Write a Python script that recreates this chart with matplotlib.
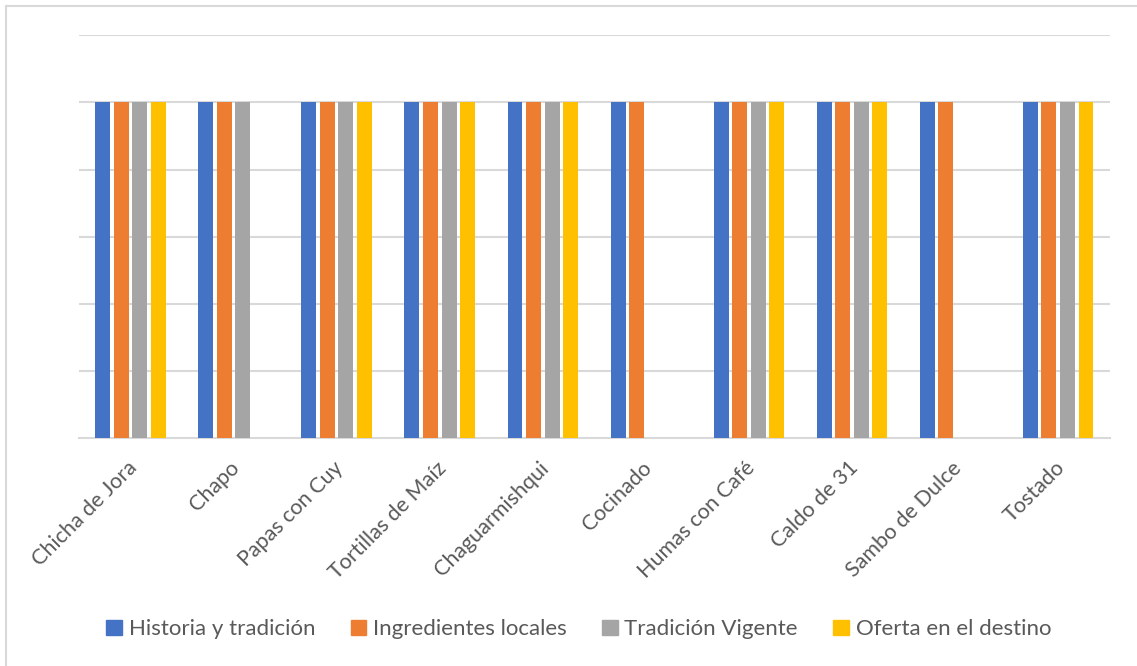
import numpy as np
import matplotlib.pyplot as plt
import matplotlib.transforms as mtransforms
from matplotlib.lines import Line2D

# platos y criterios
platos = ["Chicha de Jora", "Chapo", "Papas con Cuy", "Tortillas de Maíz", "Chaguarmishqui",
          "Cocinado", "Humas con Café", "Caldo de 31", "Sambo de Dulce", "Tostado"]
historia = [1, 1, 1, 1, 1, 1, 1, 1, 1, 1]
ingredientes = [1, 1, 1, 1, 1, 1, 1, 1, 1, 1]
vigente = [1, 1, 1, 1, 1, 0, 1, 1, 0, 1]
oferta = [1, 0, 1, 1, 1, 0, 1, 1, 0, 1]
series = ["Historia y tradición", "Ingredientes locales", "Tradición Vigente", "Oferta en el destino"]
colores = ["#4472C4", "#ED7D31", "#A5A5A5", "#FFC000"]

plt.rcParams['font.family'] = ['Lato', 'DejaVu Sans']
texto = '#595959'

fig = plt.figure(figsize=(11.37, 6.66), dpi=100)
ax = fig.add_axes([0.0695, 0.342, 0.9065, 0.605])

x = np.arange(len(platos))
paso = 0.18
ancho = 0.145
datos = [historia, ingredientes, vigente, oferta]
for i in range(4):
    ax.bar(x + (i - 1.5) * paso, datos[i], ancho, color=colores[i], label=series[i], zorder=3)

ax.set_xlim(-0.5, 9.5)
ax.set_ylim(0, 1.2)
ax.set_yticks(np.arange(0.2, 1.21, 0.2))
ax.yaxis.grid(True, color='#D9D9D9', lw=1.5, zorder=0)
ax.tick_params(axis='y', left=False, labelleft=False)
ax.tick_params(axis='x', length=0, pad=14)
for s in ['left', 'right', 'top']:
    ax.spines[s].set_visible(False)
ax.spines['bottom'].set_color('#D9D9D9')
ax.spines['bottom'].set_linewidth(1.5)

ax.set_xticks(x)
ax.set_xticklabels(platos, rotation=45, ha='right', rotation_mode='anchor',
                   fontsize=15.5, color=texto)
desplaza = mtransforms.ScaledTranslation(-4 / 100, 0, fig.dpi_scale_trans)
for lab in ax.get_xticklabels():
    lab.set_transform(lab.get_transform() + desplaza)

handles = [plt.Rectangle((0, 0), 1, 1, color=c) for c in colores]
fig.legend(handles, series, loc='center', bbox_to_anchor=(0.509, 0.055), ncol=4,
           frameon=False, fontsize=16, labelcolor=texto, handlelength=0.7,
           handleheight=0.7, handletextpad=0.3, columnspacing=1.6)

# marco del gráfico
fig.add_artist(Line2D([5.5 / 1137, 5.5 / 1137], [0, 1 - 5.5 / 666], transform=fig.transFigure,
                      color='#D9D9D9', lw=1.5))
fig.add_artist(Line2D([5.5 / 1137, 1], [1 - 5.5 / 666, 1 - 5.5 / 666], transform=fig.transFigure,
                      color='#D9D9D9', lw=1.5))

fig.savefig('out.png', dpi=100)
